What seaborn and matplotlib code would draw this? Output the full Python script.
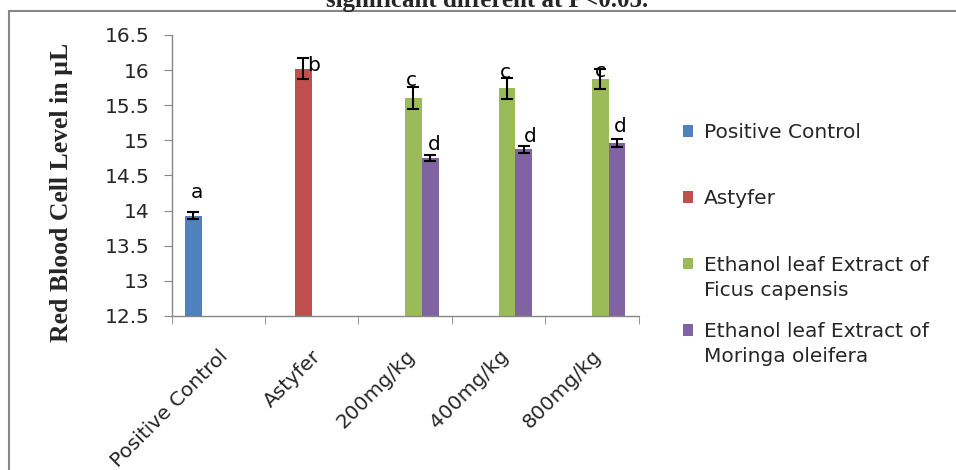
import numpy as np
import pandas as pd
import matplotlib
matplotlib.use("Agg")
import matplotlib.pyplot as plt
import matplotlib.colors as mcolors
import matplotlib.transforms as mtransforms
import seaborn as sns
from matplotlib.patches import Rectangle
from matplotlib.container import BarContainer

# categories on the x axis
groups = ["Positive Control", "Astyfer", "200mg/kg", "400mg/kg", "800mg/kg"]

# series (hue levels)
series = [
    "Positive Control",
    "Astyfer",
    "Ethanol leaf Extract of Ficus capensis",
    "Ethanol leaf Extract of Moringa oleifera",
]
# legend text: first line, optional second line
legend_first = ["Positive Control", "Astyfer", "Ethanol leaf Extract of", "Ethanol leaf Extract of"]
legend_second = ["", "", "Ficus capensis", "Moringa oleifera"]
colors = ["#4f81bd", "#c0504d", "#9bbb59", "#8064a2"]

# mean red blood cell level per group (nan = no bar)
positive_control = [13.93, np.nan, np.nan, np.nan, np.nan]
astyfer = [np.nan, 16.02, np.nan, np.nan, np.nan]
ficus = [np.nan, np.nan, 15.60, 15.74, 15.87]
moringa = [np.nan, np.nan, 14.75, 14.87, 14.96]

# error (+/-) per group
positive_control_err = [0.05, np.nan, np.nan, np.nan, np.nan]
astyfer_err = [np.nan, 0.15, np.nan, np.nan, np.nan]
ficus_err = [np.nan, np.nan, 0.155, 0.15, 0.145]
moringa_err = [np.nan, np.nan, 0.045, 0.045, 0.055]

# significance letters per series
letters = ["a", "b", "c", "d"]

yticks = [12.5, 13, 13.5, 14, 14.5, 15, 15.5, 16, 16.5]

means = [positive_control, astyfer, ficus, moringa]
errs = [positive_control_err, astyfer_err, ficus_err, moringa_err]

rows = []
for name, m_list, e_list in zip(series, means, errs):
    for g, m, e in zip(groups, m_list, e_list):
        if not np.isnan(m):
            rows.append((g, name, m, e))
df = pd.DataFrame(rows, columns=["group", "series", "value", "err"])

sns.set_style("white")
plt.rcParams["font.family"] = ["DejaVu Sans"]
FS = 14.5
W, H = 956, 470

fig = plt.figure(figsize=(W / 100, H / 100), dpi=100)
ax = fig.add_axes([0.1796, 0.3277, 0.4884, 0.598])

sns.barplot(
    data=df, x="group", y="value", hue="series",
    order=groups, hue_order=series, palette=colors,
    width=0.715, errorbar=None, saturation=1, linewidth=0, ax=ax,
)

# label nudges in pixels, keyed by (series, group) index
nudges = {
    (0, 0): (4, 23), (1, 1): (10, 3),
    (2, 2): (-2, 18), (2, 3): (-2, 16), (2, 4): (0, 8),
    (3, 2): (4, 13), (3, 3): (7, 13), (3, 4): (3, 17),
}

bar_containers = [c for c in ax.containers if isinstance(c, BarContainer)]
for container in bar_containers:
    for bar in container:
        h = bar.get_height()
        if np.isnan(h):
            continue
        si = colors.index(mcolors.to_hex(bar.get_facecolor()))
        x = bar.get_x() + bar.get_width() / 2
        gi = int(round(x))
        ax.errorbar(x, h, yerr=errs[si][gi], fmt="none", ecolor="black",
                    elinewidth=1.5, capsize=4.5, capthick=1.5, zorder=5)
        dx, dy = nudges.get((si, gi), (0, 15))
        ax.annotate(letters[si], (x, h), xytext=(dx, dy),
                    textcoords="offset pixels", ha="center", va="center",
                    fontsize=FS, color="black", zorder=6)

ax.set_xlim(-0.5, 4.5)
ax.set_ylim(12.5, 16.5)
ax.set_yticks(yticks)
ax.set_yticklabels([f"{v:g}" for v in yticks])
ax.set_xticks(range(len(groups)))
ax.set_xticks(np.arange(-0.5, len(groups)), minor=True)
ax.set_xticklabels(groups)
ax.set_xlabel("")
ax.set_ylabel("")

shift = mtransforms.ScaledTranslation(-9 / 100, 0, fig.dpi_scale_trans)
for lbl in ax.get_xticklabels():
    lbl.set_rotation(45)
    lbl.set_ha("right")
    lbl.set_rotation_mode("anchor")
    lbl.set_transform(lbl.get_transform() + shift)

for side in ["top", "right"]:
    ax.spines[side].set_visible(False)
for side in ["left", "bottom"]:
    ax.spines[side].set_color("#868686")
    ax.spines[side].set_linewidth(1)

ax.tick_params(axis="y", which="major", direction="out", length=6, color="#868686",
               pad=10, labelsize=FS, left=True)
ax.tick_params(axis="x", which="major", length=0, pad=22, labelsize=FS)
ax.tick_params(axis="x", which="minor", direction="out", length=6, color="#868686",
               bottom=True)

handles, _ = ax.get_legend_handles_labels()
ax.get_legend().remove()
leg = fig.legend(handles, legend_first, loc="upper left",
                 bbox_to_anchor=(683 / W, 1 - 123 / H),
                 frameon=False, fontsize=FS, handlelength=0.5, handleheight=0.5,
                 handletextpad=0.55, labelspacing=2.35, borderpad=0, borderaxespad=0)

# continuation lines hang below their first line, as in the original legend
fig.canvas.draw()
for txt, extra in zip(leg.get_texts(), legend_second):
    if extra:
        bb = txt.get_window_extent()
        fig.text(bb.x0 / W, (bb.y0 - 25) / H, extra, ha="left", va="bottom",
                 fontsize=FS, color=txt.get_color())

fig.text(62 / W, 1 - 192 / H, "Red Blood Cell Level in µL", rotation=90,
         ha="center", va="center", fontsize=18.5, fontweight="bold",
         family=["Liberation Serif", "DejaVu Serif"])

fig.text(487 / W, 1 - 7 / H, "significant different at P<0.05.",
         ha="center", va="baseline", fontsize=18, fontweight="bold",
         family=["Liberation Serif", "DejaVu Serif"])

fig.add_artist(Rectangle((9 / W, -0.05), 1.1, 1 - 11 / H + 0.05,
                         transform=fig.transFigure, fill=False,
                         edgecolor="#868686", linewidth=1.5))

fig.savefig("out.png", dpi=100)
